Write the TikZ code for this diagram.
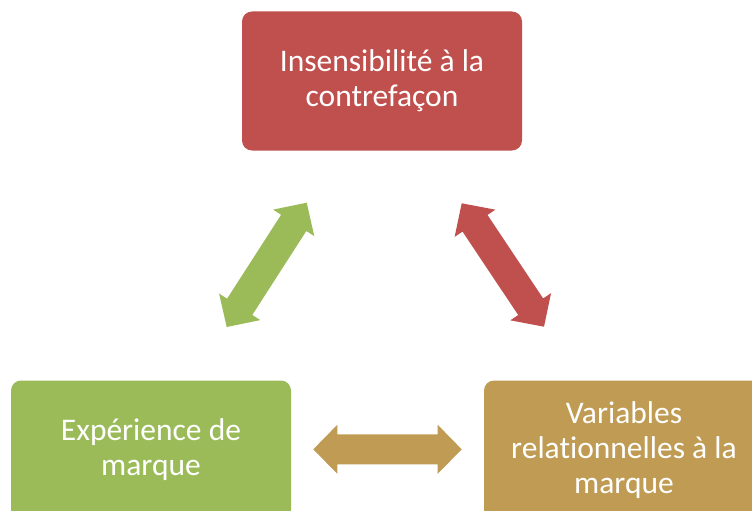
\documentclass[tikz,border=0pt]{standalone}
\usepackage{fontspec}
\setmainfont{Carlito}[Ligatures={NoCommon}]
\usetikzlibrary{calc}
\definecolor{cred}{HTML}{C0504D}
\definecolor{cgreen}{HTML}{9BBB59}
\definecolor{ctan}{HTML}{BF9B53}
\newcommand\dblarrow[3]{%
  \coordinate (hA) at ($(#1)!24pt!(#2)$);
  \coordinate (hB) at ($(#2)!24pt!(#1)$);
  \fill[#3] (#1) -- ($(hA)!24.5pt!90:(#2)$) -- ($(hA)!15pt!90:(#2)$)
    -- ($(hB)!15pt!-90:(#1)$) -- ($(hB)!24.5pt!-90:(#1)$) -- (#2)
    -- ($(hB)!24.5pt!90:(#1)$) -- ($(hB)!15pt!90:(#1)$)
    -- ($(hA)!15pt!-90:(#2)$) -- ($(hA)!24.5pt!-90:(#2)$) -- cycle;}
\tikzset{
  box/.style={rounded corners=10pt, minimum width=280pt, minimum height=139pt,
    inner sep=0pt, text=white, align=center,
    font=\fontsize{31.5}{35}\selectfont},
}
\begin{document}
\begin{tikzpicture}[x=1pt,y=-1pt]
\useasboundingbox (0,0) rectangle (752,511);
\clip (0,0) rectangle (752,511);
\node[box, fill=cred] (top) at (382,81) {Insensibilité à la\\contrefaçon};
\node[box, fill=cgreen] (left) at (151,450) {Expérience de\\marque};
\node[box, fill=ctan] (right) at (624,450) {Variables\\relationnelles à la\\marque};
\coordinate (g1) at (226.7,327);
\coordinate (g2) at (306.7,202.7);
\coordinate (r1) at (461.7,203.3);
\coordinate (r2) at (544,326.7);
\coordinate (t1) at (313.3,449.3);
\coordinate (t2) at (461.7,449.3);
\dblarrow{g1}{g2}{cgreen}
\dblarrow{r1}{r2}{cred}
\dblarrow{t1}{t2}{ctan}
\end{tikzpicture}
\end{document}
